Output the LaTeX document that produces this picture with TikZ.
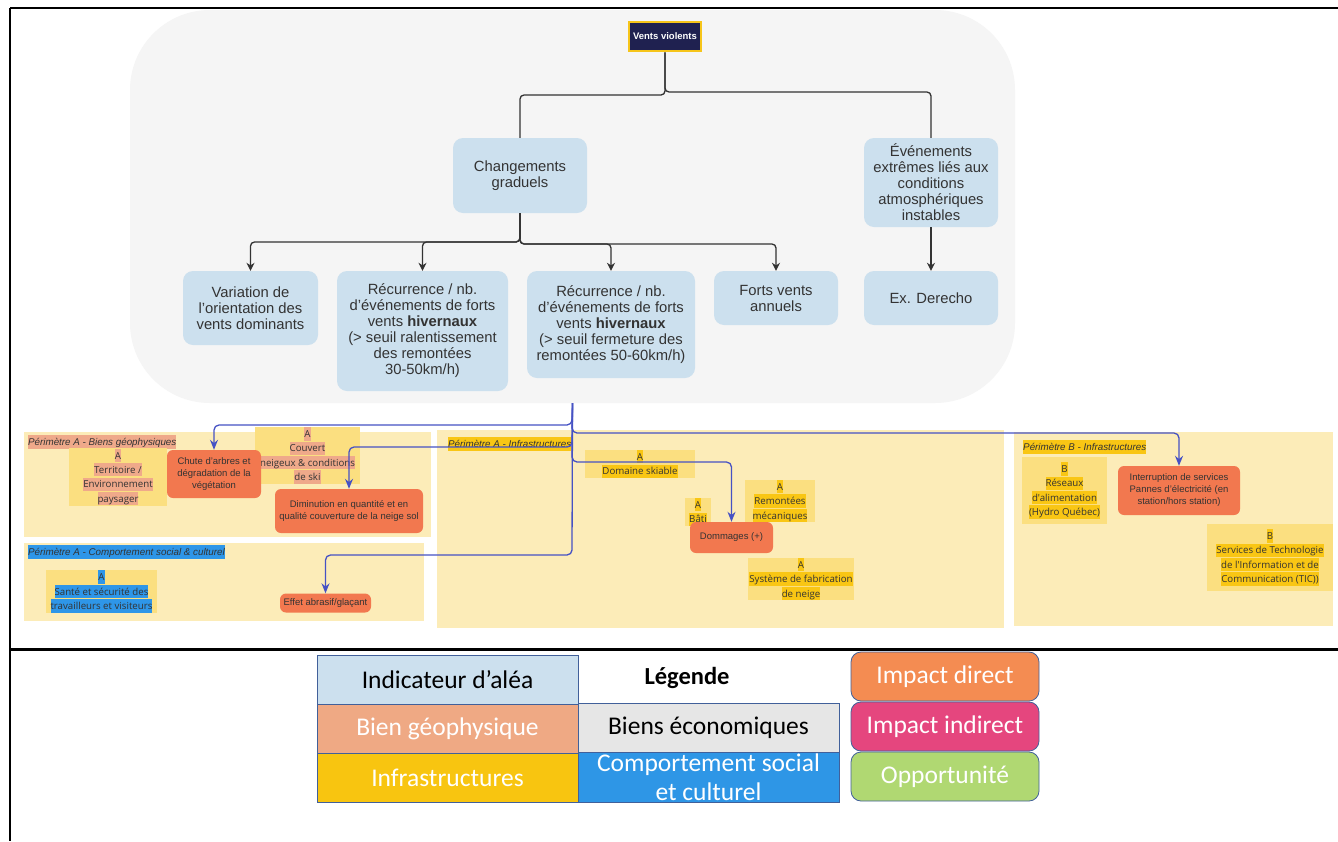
\documentclass[tikz,border=0pt]{standalone}
\usepackage{fontspec}
\setmainfont{Liberation Sans}
\newfontfamily\legfont{Carlito}
\newfontfamily\osfont{Open Sans}
\usetikzlibrary{arrows.meta}
\definecolor{hazblue}{HTML}{CCE0EE}
\definecolor{grayreg}{HTML}{F5F5F5}
\definecolor{txt}{HTML}{333333}
\definecolor{conncol}{HTML}{333333}
\definecolor{bconn}{HTML}{4652C4}
\definecolor{perimcol}{HTML}{FCECB8}
\definecolor{assetcol}{HTML}{FBDF80}
\definecolor{salmon}{HTML}{EFA98A}
\definecolor{hyellow}{HTML}{F9C614}
\definecolor{hblue}{HTML}{2E96E8}
\definecolor{impactcol}{HTML}{F2784F}
\definecolor{navy}{HTML}{1F2150}
\definecolor{gold}{HTML}{F6C51A}
\definecolor{lgblue}{HTML}{CCE0EE}
\definecolor{lgsal}{HTML}{EFA984}
\definecolor{lgyel}{HTML}{F8C510}
\definecolor{lggray}{HTML}{E6E6E6}
\definecolor{lgbl}{HTML}{2E96E6}
\definecolor{lgorange}{HTML}{F48C52}
\definecolor{lgpink}{HTML}{E5467E}
\definecolor{lggreen}{HTML}{B0D872}
\definecolor{lgedge}{HTML}{41609A}
\newcommand{\hlt}[2]{{\setlength{\fboxsep}{0pt}\colorbox{#1}{\rule[-3pt]{0pt}{13.3pt}#2}}}
\tikzset{
  haz/.style={fill=hazblue, rounded corners=10pt, text=txt, align=center, inner sep=0pt, font=\fontsize{14.8}{16}\selectfont},
  lin/.style={draw=conncol, line width=1.3pt, rounded corners=4pt},
  arr/.style={lin, -{Stealth[length=8pt,width=8pt]}},
  barr/.style={draw=bconn, line width=1.3pt, rounded corners=5pt, -{Stealth[length=10pt,width=8pt]}},
  perim/.style={fill=perimcol, draw=none, inner sep=0pt},
  assetbox/.style={fill=assetcol, inner sep=0pt, align=center, text=txt, font=\osfont\fontsize{9.7}{14.4}\selectfont},
  imp/.style={fill=impactcol, rounded corners=6pt, inner sep=0pt, align=center, text=txt, font=\fontsize{9.5}{12}\selectfont},
  plabel/.style={anchor=west, inner sep=0pt, text=txt, font=\itshape\fontsize{9.8}{11}\selectfont},
  lg/.style={draw=lgedge, line width=0.8pt, minimum width=261pt, minimum height=49pt, inner sep=0pt, align=center, font=\legfont\fontsize{25.5}{29}\selectfont},
  lgr/.style={lg, rounded corners=10pt, minimum width=188pt},
  frame/.style={draw=black}
}
\begin{document}
\begin{tikzpicture}[x=1pt,y=-1pt]
\useasboundingbox (0,0) rectangle (1338,841);
\fill[white] (0,0) rectangle (1338,841);
% frame
\draw[frame, line width=1.5pt] (10,8) -- (1338,8);
\draw[frame, line width=2pt] (10,8) -- (10,841);
\draw[frame, line width=3pt] (10,649) -- (1338,649);

% gray region
\node[fill=grayreg, rounded corners=80pt, minimum width=885pt, minimum height=393pt, inner sep=0pt] (grp) at (572.5,206.5) {};

% hazard nodes
\node[fill=navy, draw=gold, line width=2.5pt, minimum width=72pt, minimum height=29pt, inner sep=0pt, text=white, font=\bfseries\fontsize{9.5}{10}\selectfont] (vv) at (665,36.5) {Vents violents};
\node[haz, minimum width=134pt, minimum height=75pt] (cg) at (520,175.5) {Changements\\graduels};
\node[haz, minimum width=134pt, minimum height=89pt] (ev) at (931,182.5) {Événements\\extrêmes liés aux\\conditions\\atmosphériques\\instables};
\node[haz, minimum width=135pt, minimum height=74pt] (var) at (250.5,308) {Variation de\\l'orientation des\\vents dominants};
\node[haz, minimum width=171pt, minimum height=120pt] (rec1) at (422.5,331) {Récurrence / nb.\\d'événements de forts\\vents \textbf{hivernaux}\\(> seuil ralentissement\\des remontées\\30-50km/h)};
\node[haz, minimum width=168pt, minimum height=107pt] (rec2) at (611,324.5) {Récurrence / nb.\\d'événements de forts\\vents \textbf{hivernaux}\\(> seuil fermeture des\\remontées 50-60km/h)};
\node[haz, minimum width=124pt, minimum height=54pt] (fva) at (776,298) {Forts vents\\annuels};
\node[haz, minimum width=134pt, minimum height=54pt] (der) at (931,298) {Ex. Derecho};

% black connectors
\draw[lin] (vv.south) -- (665,95) -| (cg.north);
\draw[lin] (vv.south) -- (665,92) -| (ev.north);
\draw[arr] (cg.south) -- (520,242) -| (var.north);
\draw[arr] (cg.south) -- (520,242) -| (rec1.north);
\draw[arr] (cg.south) -- (520,244) -| (rec2.north);
\draw[arr] (cg.south) -- (520,244) -| (fva.north);
\draw[arr] (ev.south) -- (der.north);

% perimeters
\node[perim, minimum width=407pt, minimum height=105pt] (pgeo) at (227.5,484.5) {};
\node[perim, minimum width=400pt, minimum height=78pt] (psoc) at (224,582) {};
\node[perim, minimum width=567pt, minimum height=198pt] (pinfa) at (720.5,529) {};
\node[perim, minimum width=319pt, minimum height=194pt] (pinfb) at (1173.5,529) {};
\node[plabel] (lgeo) at (28,442) {\hlt{salmon}{Périmètre A - Biens géophysiques}};
\node[plabel] (lsoc) at (28,552) {\hlt{hblue}{Périmètre A - Comportement social \& culturel}};
\node[plabel] (linfa) at (448,444) {\hlt{hyellow}{Périmètre A - Infrastructures}};
\node[plabel] (linfb) at (1023,447) {\hlt{hyellow}{Périmètre B - Infrastructures}};

% assets
\node[assetbox, minimum width=98pt, minimum height=58pt] (terr) at (118,477) {\hlt{salmon}{A}\\\hlt{salmon}{Territoire /}\\\hlt{salmon}{Environnement}\\\hlt{salmon}{paysager}};
\node[assetbox, minimum width=105pt, minimum height=55pt] (couv) at (307.5,455.5) {\hlt{salmon}{A}\\\hlt{salmon}{Couvert}\\\hlt{salmon}{neigeux \& conditions}\\\hlt{salmon}{de ski}};
\node[assetbox, minimum width=111pt, minimum height=43pt] (sante) at (101.5,591.5) {\hlt{hblue}{A}\\\hlt{hblue}{Santé et sécurité des}\\\hlt{hblue}{travailleurs et visiteurs}};
\node[assetbox, minimum width=110pt, minimum height=28pt] (dom) at (640,464) {\hlt{hyellow}{A}\\\hlt{hyellow}{Domaine skiable}};
\node[assetbox, minimum width=26pt, minimum height=28pt] (bati) at (698,512) {\hlt{hyellow}{A}\\\hlt{hyellow}{Bâti}};
\node[assetbox, minimum width=70pt, minimum height=42pt] (rem) at (780,501) {\hlt{hyellow}{A}\\\hlt{hyellow}{Remontées}\\\hlt{hyellow}{mécaniques}};
\node[assetbox, minimum width=106pt, minimum height=42pt] (sys) at (801,579) {\hlt{hyellow}{A}\\\hlt{hyellow}{Système de fabrication}\\\hlt{hyellow}{de neige}};
\node[assetbox, minimum width=85pt, minimum height=67pt] (res) at (1064.5,490.5) {\hlt{hyellow}{B}\\\hlt{hyellow}{Réseaux}\\\hlt{hyellow}{d'alimentation}\\\hlt{hyellow}{(Hydro Québec)}};
\node[assetbox, minimum width=126pt, minimum height=67pt] (tic) at (1270,557.5) {\hlt{hyellow}{B}\\\hlt{hyellow}{Services de Technologie}\\\hlt{hyellow}{de l'Information et de}\\\hlt{hyellow}{Communication (TIC))}};

% impacts
\node[imp, minimum width=94pt, minimum height=48pt] (chute) at (214,474) {Chute d'arbres et\\dégradation de la\\végétation};
\node[imp, minimum width=148pt, minimum height=44pt] (dimi) at (349,511) {Diminution en quantité et en\\qualité couverture de la neige sol};
\node[imp, minimum width=91pt, minimum height=19pt] (eff) at (325.5,603) {Effet abrasif/glaçant};
\node[imp, minimum width=83pt, minimum height=31pt] (domg) at (731.5,537.5) {Dommages (+)};
\node[imp, minimum width=122pt, minimum height=49pt] (intr) at (1179,490.5) {Interruption de services\\Pannes d'électricité (en\\station/hors station)};

% blue connectors
\draw[barr] (grp.south) -- (572,425) -| (chute.north);
\draw[barr] (grp.south) -- (572,433) -| (intr.north);
\draw[barr] (grp.south) -- (572,447) -| (dimi.north);
\draw[barr] (grp.south) -- (572,462) -| (domg.north);
\draw[barr] (grp.south) -- (572,555) -| (eff.north);

% legend
\node[lg, fill=lgblue, text=black] (lind) at (447.5,679.5) {Indicateur d’aléa};
\node[font=\legfont\bfseries\fontsize{24.5}{26}\selectfont, text=black] (ltitle) at (687,678) {Légende};
\node[lg, fill=lgsal, text=white] (lbg) at (447.5,728.5) {Bien géophysique};
\node[lg, fill=lggray, text=black] (lbe) at (708.5,727.5) {Biens économiques};
\node[lg, fill=lgyel, text=white] (linf) at (447.5,777.5) {Infrastructures};
\node[lg, fill=lgbl, text=white, minimum height=50pt] (lcsc) at (708.5,777) {Comportement social\\et culturel};
\node[lgr, fill=lgorange, text=white] (lid) at (945,676.5) {Impact direct};
\node[lgr, fill=lgpink, text=white] (lii) at (945,726.5) {Impact indirect};
\node[lgr, fill=lggreen, text=white] (lop) at (945,776.5) {Opportunité};
\end{tikzpicture}
\end{document}
